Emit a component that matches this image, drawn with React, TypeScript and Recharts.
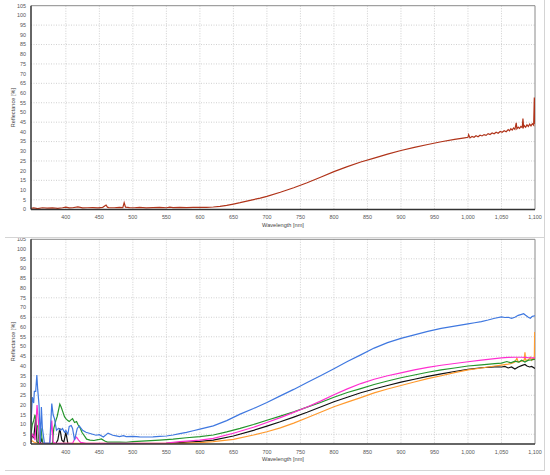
import React from 'react';
import { LineChart, Line, XAxis, YAxis, CartesianGrid, ReferenceLine } from 'recharts';

// ---------- data ----------
const xTicks = [400, 450, 500, 550, 600, 650, 700, 750, 800, 850, 900, 950, 1000, 1050, 1100];
const yTicks = [0, 5, 10, 15, 20, 25, 30, 35, 40, 45, 50, 55, 60, 65, 70, 75, 80, 85, 90, 95, 100, 105];
const yGrid = [5, 15, 25, 35, 45, 55, 65, 75, 85, 95];
const xGrid = [400, 450, 500, 550, 600, 650, 700, 750, 800, 850, 900, 950, 1000, 1050];

const topWl = [348, 352, 358, 365, 372, 380, 388, 395, 400, 405, 410, 418, 425, 432, 440, 448, 455, 460, 462, 464, 472, 480, 485, 487, 489, 495, 502, 510, 520, 530, 540, 550, 555, 560, 570, 580, 590, 600, 610, 620, 630, 640, 650, 660, 670, 680, 690, 700, 720, 740, 760, 780, 800, 820, 840, 860, 880, 900, 920, 940, 960, 980, 995, 1000, 1001, 1003, 1006, 1009, 1012, 1015, 1018, 1021, 1024, 1027, 1030, 1033, 1036, 1039, 1042, 1045, 1048, 1051, 1054, 1057, 1060, 1062, 1064, 1066, 1068, 1070, 1072, 1073, 1075, 1077, 1079, 1081, 1082, 1083, 1084, 1086, 1088, 1090, 1092, 1094, 1096, 1098, 1099, 1100];
const topR = [0.6, 0.8, 0.5, 0.9, 0.7, 0.8, 0.6, 0.9, 1.2, 0.8, 0.9, 1.3, 0.8, 0.9, 1.0, 0.8, 1.1, 2.3, 1.2, 1.0, 0.9, 1.1, 1.0, 3.5, 1.2, 1.0, 0.9, 1.1, 0.8, 1.0, 1.1, 0.9, 1.2, 1.0, 1.1, 1.0, 1.1, 1.1, 1.1, 1.3, 1.6, 2.1, 2.8, 3.5, 4.3, 5.1, 5.9, 6.8, 8.9, 11.2, 13.8, 16.6, 19.5, 22.1, 24.5, 26.5, 28.5, 30.4, 32.0, 33.5, 34.9, 36.1, 36.9, 37.2, 38.6, 36.9, 37.6, 37.2, 38.0, 37.5, 38.3, 37.9, 38.6, 38.2, 39.1, 38.6, 39.4, 39.0, 39.8, 39.3, 40.2, 39.8, 40.6, 40.1, 41.2, 40.5, 41.6, 40.9, 42.0, 41.3, 44.6, 41.6, 42.4, 41.8, 42.8, 42.2, 46.8, 42.5, 43.2, 42.4, 43.6, 42.8, 44.0, 43.1, 44.2, 43.4, 57.7, 44.0];

const blueWl = [348, 350, 352, 353, 355, 356.7, 358, 360, 362, 363.5, 365, 368, 372, 376, 379, 381, 383, 386, 389, 392, 395, 398, 400, 403, 405, 408, 410, 413, 417, 420, 425, 430, 435, 440, 445, 450, 456, 463, 470, 475, 480, 486, 490, 500, 510, 520, 530, 540, 550, 560, 570, 580, 590, 600, 620, 640, 660, 680, 700, 720, 740, 760, 780, 800, 820, 840, 860, 880, 900, 920, 940, 960, 980, 1000, 1010, 1020, 1030, 1040, 1050, 1055, 1060, 1065, 1070, 1075, 1080, 1083, 1086, 1090, 1093, 1096, 1100];
const blueR = [10, 24, 21, 27, 27, 35.4, 28, 20, 1, 19, 8, 0.5, 0.3, 0.5, 20.8, 15, 13, 7, 8, 7, 8, 6, 7, 5, 9, 9.5, 8, 2, 8, 9.3, 7, 6, 5.5, 5, 4.5, 4.8, 3.6, 5.6, 4.5, 4.2, 3.8, 4.3, 3.8, 3.9, 3.7, 3.6, 3.7, 3.9, 4.1, 4.6, 5.3, 6.0, 6.8, 7.6, 9.3, 12.0, 15.3, 18.2, 21.3, 24.7, 28.0, 31.5, 35.0, 38.6, 42.3, 45.7, 49.2, 52.0, 54.2, 56.0, 57.8, 59.3, 60.5, 61.6, 62.2, 62.8, 63.6, 64.5, 65.2, 64.9, 65.0, 64.5, 65.0, 66.0, 66.5, 66.8, 66.0, 65.0, 64.5, 65.5, 65.8];

const magentaWl = [348, 350, 352, 354, 357, 359, 361, 376, 379, 381, 385, 410, 413, 416, 419, 422, 430, 500, 550, 570, 600, 620, 650, 680, 700, 720, 740, 760, 780, 800, 820, 840, 860, 880, 900, 920, 940, 960, 980, 1000, 1020, 1040, 1050, 1060, 1070, 1080, 1090, 1100];
const magentaR = [2, 5, 4, 2, 20, 12, 0.5, 0.3, 12, 1, 0.3, 0.3, 2.5, 3.5, 2, 0.8, 0.3, 0.3, 0.5, 1.2, 2.0, 2.9, 5.5, 8.6, 11.0, 13.5, 16.2, 19.0, 22.0, 25.3, 28.3, 31.0, 33.2, 35.0, 36.5, 38.0, 39.3, 40.4, 41.3, 42.2, 43.0, 43.8, 44.2, 44.4, 44.5, 44.5, 44.3, 44.2];

const greenWl = [348, 350, 352, 354, 356, 358, 360, 363, 365, 380, 382, 385, 387, 391, 393, 395, 398, 400, 403, 405, 408, 410, 413, 416, 418, 421, 424, 426, 429, 431, 436, 442, 448, 453, 458, 462, 470, 480, 490, 500, 520, 540, 560, 580, 600, 620, 640, 660, 680, 700, 720, 740, 760, 780, 800, 820, 840, 860, 880, 900, 920, 940, 960, 980, 1000, 1020, 1040, 1050, 1058, 1064, 1070, 1076, 1080, 1085, 1090, 1095, 1100];
const greenR = [5, 10, 12, 15, 10, 9, 0.5, 8, 0.5, 0.3, 8, 12, 14, 20.5, 19, 17, 14, 13, 12, 11.5, 12.5, 13, 11, 11.5, 10, 8.5, 6, 5, 3.5, 2.5, 2, 1.8, 2.2, 2.6, 1.5, 1, 1, 1, 0.9, 1.2, 1.6, 2.0, 2.5, 3.2, 3.8, 4.6, 6.2, 8.0, 10.0, 12.2, 14.3, 16.5, 18.9, 21.3, 24.0, 26.4, 28.4, 30.5, 32.3, 34.0, 35.4, 36.8, 38.0, 39.0, 40.0, 40.6, 41.2, 41.5, 42.3, 41.6, 42.5, 42.0, 43.0, 42.0, 43.0, 43.2, 43.5];

const blackWl = [348, 350, 352, 355, 357, 362, 364, 366, 385, 388, 391, 394, 397, 400, 403, 450, 500, 550, 570, 600, 620, 650, 680, 700, 720, 740, 760, 780, 800, 820, 840, 860, 880, 900, 920, 940, 960, 980, 1000, 1020, 1040, 1050, 1055, 1060, 1065, 1070, 1075, 1080, 1085, 1088, 1092, 1095, 1100];
const blackR = [1, 5, 3, 13, 1, 0.5, 2.5, 0.3, 0.2, 2, 8, 2, 1, 6, 0.3, 0.2, 0.2, 0.3, 0.7, 1.3, 2.0, 4.1, 7.0, 9.2, 11.4, 13.8, 16.3, 19.0, 21.7, 24.0, 26.3, 28.2, 30.0, 31.7, 33.2, 34.7, 36.0, 37.2, 38.3, 39.1, 39.6, 39.5, 39.8, 39.0, 39.5, 38.5, 39.5, 40.2, 40.8, 40.0, 39.5, 39.8, 38.8];

const orangeWl = [348, 352, 356, 360, 380, 400, 450, 500, 550, 570, 600, 620, 650, 680, 700, 720, 740, 760, 780, 800, 820, 840, 860, 880, 900, 920, 940, 960, 980, 1000, 1020, 1040, 1050, 1060, 1065, 1070, 1073, 1075, 1080, 1084, 1085, 1086, 1090, 1093, 1095, 1097, 1099, 1099.5, 1100];
const orangeR = [2, 1, 0.5, 0.3, 0.2, 0.3, 0.3, 0.3, 0.3, 0.3, 0.7, 1.2, 2.4, 4.6, 6.3, 8.3, 10.7, 13.5, 16.3, 19.1, 21.5, 23.8, 26.2, 28.2, 30.0, 31.8, 33.5, 35.0, 36.6, 38.0, 39.0, 40.0, 40.5, 41.0, 41.3, 42.0, 44.0, 42.0, 42.5, 43.0, 47.0, 43.0, 43.0, 44.5, 43.0, 44.0, 43.5, 57.5, 44.0];

const zip = (wl: number[], r: number[]) => wl.map((w, i) => ({ wl: w, r: r[i] }));

const topData = zip(topWl, topR);
const bottomSeries = [
  { name: 'black', color: '#111111', data: zip(blackWl, blackR) },
  { name: 'orange', color: '#ff9a2e', data: zip(orangeWl, orangeR) },
  { name: 'green', color: '#24952c', data: zip(greenWl, greenR) },
  { name: 'magenta', color: '#ff2fd0', data: zip(magentaWl, magentaR) },
  { name: 'blue', color: '#3f78e0', data: zip(blueWl, blueR) },
];

// ---------- styling ----------
const FONT = '"Liberation Sans", Arial, sans-serif';
const tickStyle = { fontSize: 5.4, fill: '#555', fontFamily: FONT };
const fmt = (v: number) => v.toLocaleString('en-US');

function renderCommon() {
  return [
    <CartesianGrid
      key="grid"
      horizontalValues={yGrid}
      verticalValues={xGrid}
      stroke="#c4c4c4"
      strokeDasharray="1 1.5"
      strokeWidth={0.8}
    />,
    <XAxis
      key="x"
      dataKey="wl"
      type="number"
      domain={[348, 1100]}
      ticks={xTicks}
      interval={0}
      allowDataOverflow
      tickFormatter={fmt}
      tick={tickStyle}
      tickLine={false}
      tickSize={4}
      tickMargin={2}
      axisLine={{ stroke: '#333', strokeWidth: 1.5 }}
      height={22}
      label={{ value: 'Wavelength [nm]', position: 'insideBottom', offset: 5, fontSize: 5.6, fill: '#444', fontFamily: FONT }}
    />,
    <YAxis
      key="y"
      dataKey="r"
      type="number"
      domain={[0, 105]}
      ticks={yTicks}
      interval={0}
      allowDataOverflow
      tick={tickStyle}
      tickLine={false}
      tickSize={3}
      tickMargin={2}
      axisLine={{ stroke: '#333', strokeWidth: 1.5 }}
      width={31}
      label={{ value: 'Reflectance [%]', angle: -90, position: 'center', dx: -2.5, fontSize: 5.6, fill: '#444', fontFamily: FONT }}
    />,
    <ReferenceLine key="rt" y={105} stroke="#8a8a8a" strokeWidth={1} ifOverflow="visible" />,
    <ReferenceLine key="rr" x={1100} stroke="#8a8a8a" strokeWidth={1} ifOverflow="visible" />,
  ];
}

export default function App() {
  return (
    <div style={{ position: 'absolute', left: 0, top: 0, width: 550, height: 475, background: '#fff', overflow: 'hidden' }}>
      <div style={{ position: 'absolute', left: 0, top: 0 }}>
        <LineChart width={550} height={232} margin={{ top: 5.7, right: 15, bottom: 0.5, left: 0 }}>
          {renderCommon()}
          <Line data={topData} dataKey="r" stroke="#b0341a" strokeWidth={1.2} dot={false} isAnimationActive={false} type="linear" />
        </LineChart>
      </div>
      <div style={{ position: 'absolute', left: 0, top: 233 }}>
        <LineChart width={550} height={240} margin={{ top: 6.3, right: 15, bottom: 7, left: 0 }}>
          {renderCommon()}
          {bottomSeries.map((s) => (
            <Line key={s.name} data={s.data} dataKey="r" stroke={s.color} strokeWidth={1.2} dot={false} isAnimationActive={false} type="linear" />
          ))}
        </LineChart>
      </div>
      {/* panel frame lines */}
      <div style={{ position: 'absolute', left: 544, top: 0, width: 1, height: 471, background: '#d4d4d4' }} />
      <div style={{ position: 'absolute', left: 5, top: 237, width: 540, height: 1, background: '#d4d4d4' }} />
      <div style={{ position: 'absolute', left: 5, top: 470, width: 540, height: 1, background: '#d4d4d4' }} />
    </div>
  );
}
